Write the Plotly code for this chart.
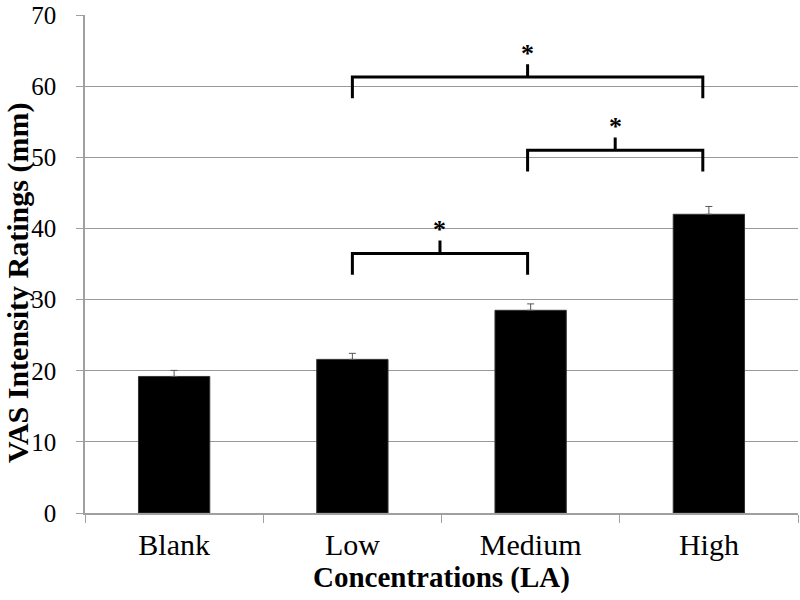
import plotly.graph_objects as go

categories = ["Blank", "Low", "Medium", "High"]
means = [19.2, 21.6, 28.5, 42.0]
errors = [0.85, 0.85, 0.9, 1.1]
errors_lower = [0, 0, 0, 0]

# significance brackets: (left category index, right category index, bar level)
bracket_left = [1, 2, 1]
bracket_right = [2, 3, 3]
bracket_level = [36.5, 51.0, 61.3]
bracket_label = ["*", "*", "*"]

y_ticks = [0, 10, 20, 30, 40, 50, 60, 70]

font_family = "Liberation Serif, Times New Roman, serif"

fig = go.Figure()
fig.add_trace(go.Bar(
    x=categories,
    y=means,
    marker=dict(color="black", line=dict(color="#333333", width=1)),
    error_y=dict(type="data", array=errors, arrayminus=errors_lower,
                 symmetric=False, visible=True,
                 color="#555555", thickness=1, width=3.5),
    width=0.4,
))

# draw brackets
leg_drop = 3.0
tick_rise = 1.8
shift = {1: 0.0, 2: -0.017, 3: -0.034}
for l, r, lv, lab in zip(bracket_left, bracket_right, bracket_level, bracket_label):
    xl = l + shift[l]
    xr = r + shift[r]
    xm = (xl + xr) / 2
    path = (f"M {xl} {lv - leg_drop} L {xl} {lv} L {xr} {lv} L {xr} {lv - leg_drop} "
            f"M {xm} {lv} L {xm} {lv + tick_rise}")
    fig.add_shape(type="path", path=path, xref="x", yref="y",
                  line=dict(color="black", width=3))
    fig.add_annotation(x=xm, y=lv + tick_rise + 1.5, xref="x", yref="y",
                       text=f"<b>{lab}</b>", showarrow=False,
                       yanchor="middle", xanchor="center",
                       font=dict(family=font_family, size=26, color="black"))

# y-axis title as annotation for exact placement
fig.add_annotation(x=-0.094, y=0.462, xref="paper", yref="paper",
                   text="<b>VAS Intensity Ratings (mm)</b>", textangle=-90,
                   showarrow=False, xanchor="center", yanchor="middle",
                   font=dict(family=font_family, size=30, color="black"))

fig.update_layout(
    width=800, height=600,
    margin=dict(l=85, r=2, t=15, b=87),
    paper_bgcolor="white", plot_bgcolor="white",
    showlegend=False,
    font=dict(family=font_family, color="black"),
    xaxis=dict(
        type="category",
        range=[-0.5, 3.5],
        automargin=False,
        showline=True, linecolor="#a0a0a0", linewidth=1.5,
        ticks="outside", tickson="boundaries", ticklen=8, tickcolor="#a0a0a0",
        tickfont=dict(family=font_family, size=30, color="black"),
        ticklabelstandoff=4,
        title=dict(text="<b>Concentrations (LA)</b>",
                   font=dict(family=font_family, size=29, color="black"),
                   standoff=4),
        showgrid=False,
    ),
    yaxis=dict(
        range=[0, 70.02],
        tickvals=y_ticks,
        automargin=False,
        ticklabeloverflow="allow",
        showline=True, linecolor="#a0a0a0", linewidth=1.5,
        showgrid=True, gridcolor="#999999", gridwidth=1,
        zeroline=False,
        ticks="outside", ticklen=7, tickcolor="#a0a0a0",
        tickfont=dict(family=font_family, size=25, color="black"),
        ticklabelstandoff=15,
    ),
)

fig.write_html("out.html", config={"displayModeBar": False},
               post_script="document.body.style.margin='0';")
